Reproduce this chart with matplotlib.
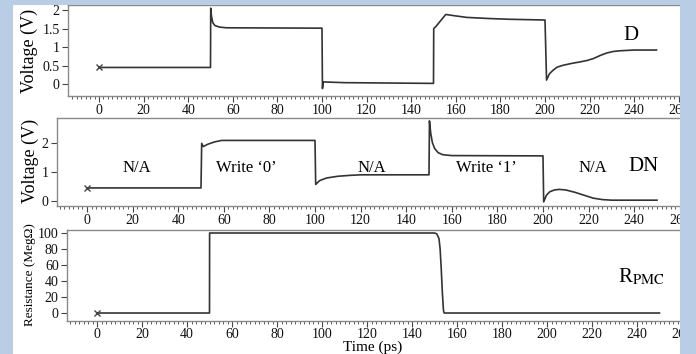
import matplotlib.pyplot as plt
import matplotlib.ticker as mticker
from matplotlib.patches import Rectangle

plt.rcParams['font.family'] = ['Liberation Serif', 'DejaVu Serif']
plt.rcParams['mathtext.fontset'] = 'stix'

# --- data (time in ps) ---
d_t = [0, 50, 50.1, 50.4, 51, 52, 54, 57, 100, 100.2, 100.6, 110, 150,
       150.1, 151, 155.5, 160, 165, 175, 184, 200, 200.7, 202, 203.7,
       205.5, 208.2, 212, 215.7, 219, 221.7, 225, 227.7, 230.5, 233.6, 240, 250]
d_v = [0.45, 0.45, 2.05, 1.85, 1.66, 1.58, 1.54, 1.52, 1.51, -0.12, 0.06, 0.04, 0.02,
       1.5, 1.55, 1.88, 1.84, 1.8, 1.77, 1.75, 1.73, 0.11, 0.28, 0.38,
       0.46, 0.51, 0.56, 0.6, 0.64, 0.69, 0.78, 0.84, 0.88, 0.9, 0.92, 0.92]

dn_t = [0, 50, 50.3, 51, 53, 56, 59, 100, 100.3, 102, 105, 110, 115, 120, 150,
        150.2, 150.8, 151.5, 152.5, 154, 156, 160, 200, 200.3, 201.5, 203, 205,
        207, 210, 214, 218, 222, 226, 230, 250]
dn_v = [0.45, 0.45, 1.98, 1.87, 1.95, 2.03, 2.08, 2.08, 0.57, 0.7, 0.79, 0.85, 0.88, 0.9, 0.9,
        2.75, 2.3, 2.0, 1.8, 1.66, 1.59, 1.56, 1.55, -0.03, 0.2, 0.32, 0.38,
        0.4, 0.38, 0.3, 0.2, 0.1, 0.05, 0.03, 0.03]

r_t = [0, 50, 50.05, 150, 151, 152, 152.5, 153, 153.5, 154, 154.3, 250]
r_v = [0, 0, 100, 100, 99, 93, 80, 55, 25, 3, 0, 0]

xticks = list(range(0, 261, 20))
yticks1 = [0, 0.5, 1, 1.5, 2]
yticks2 = [0, 1, 2]
yticks3 = [0, 20, 40, 60, 80, 100]

regions = [("N/A", 22), ("Write \u20180\u2019", 70), ("N/A", 125),
           ("Write \u20181\u2019", 175), ("N/A", 222)]

W, H = 696, 354
fig = plt.figure(figsize=(W / 100, H / 100), dpi=100)
fig.patch.set_facecolor('#b9cde5')
fig.add_artist(Rectangle((13 / W, 0), 667 / W, 1 - 5 / H, transform=fig.transFigure,
                         facecolor='white', edgecolor='none', zorder=-5))

line_c = '#333333'
frame_c = '#8a8a8a'


def make_ax(left, top, bottom, zero_px, scale, ylim, yticks):
    x0 = (left - zero_px) / scale
    x1 = 265
    width = (x1 - x0) * scale
    ax = fig.add_axes([left / W, 1 - bottom / H, width / W, (bottom - top) / H])
    ax.set_facecolor('none')
    ax.set_xlim(x0, x1)
    ax.set_ylim(*ylim)
    ax.set_xticks(xticks)
    ax.xaxis.set_minor_locator(mticker.MultipleLocator(2))
    ax.set_yticks(yticks)
    ax.yaxis.set_major_formatter(mticker.FuncFormatter(lambda v, p: '%g' % v))
    ax.spines['right'].set_visible(False)
    for s in ['top', 'left', 'bottom']:
        ax.spines[s].set_color(frame_c)
        ax.spines[s].set_linewidth(1.0)
    ax.tick_params(axis='both', which='major', direction='out', length=4,
                   width=0.8, color='#444444', labelsize=10, pad=2, labelcolor='#111111')
    ax.tick_params(axis='x', which='minor', direction='out', length=2,
                   width=0.6, color='#444444')
    return ax


ax1 = make_ax(68, 5, 96, 99, 2.23, (-0.32, 2.135), yticks1)
ax1.plot(d_t, d_v, color=line_c, lw=1.2)
ax1.plot([0], [0.45], marker='x', color='#444444', ms=5, mew=1)
ax1.text(235, 1.3, 'D', fontsize=15, ha='left', va='center')

ax2 = make_ax(57, 117.7, 206, 87, 2.28, (-0.17, 2.86), yticks2)
ax2.plot(dn_t, dn_v, color=line_c, lw=1.2)
ax2.plot([0], [0.45], marker='x', color='#444444', ms=5, mew=1)
for lab, xc in regions:
    ax2.text(xc, 1.15, lab, fontsize=12, ha='center', va='center')
ax2.text(244, 1.2, 'DN', fontsize=15, ha='center', va='center')

ax3 = make_ax(67, 230, 320.7, 97, 2.25, (-9.6, 103.75), yticks3)
ax3.plot(r_t, r_v, color=line_c, lw=1.2)
ax3.plot([0], [0], marker='x', color='#444444', ms=5, mew=1)
ax3.tick_params(axis='x', which='major', pad=1)
ax3.text(242, 45, r'R$_{\mathrm{PMC}}$', fontsize=15, ha='center', va='center')

fig.text(29 / W, 1 - 51 / H, 'Voltage (V)', rotation=90, fontsize=13,
         ha='center', va='center')
fig.text(30 / W, 1 - 161 / H, 'Voltage (V)', rotation=90, fontsize=13,
         ha='center', va='center')
fig.text(30 / W, 1 - 275 / H, 'Resistance (Meg\u03a9)', rotation=90, fontsize=9.5,
         ha='center', va='center')
fig.text(373 / W, 1 - 347.5 / H, 'Time (ps)', fontsize=11, ha='center', va='center')

# blue border on the right clips the axes that run past the frame
fig.add_artist(Rectangle((680 / W, 0), 16 / W, 1, transform=fig.transFigure,
                         facecolor='#b9cde5', edgecolor='none', zorder=100))
fig.add_artist(Rectangle((0, 1 - 5 / H), 1, 5 / H, transform=fig.transFigure,
                         facecolor='#b9cde5', edgecolor='none', zorder=100))

fig.savefig('out.png', dpi=100, facecolor=fig.get_facecolor())
